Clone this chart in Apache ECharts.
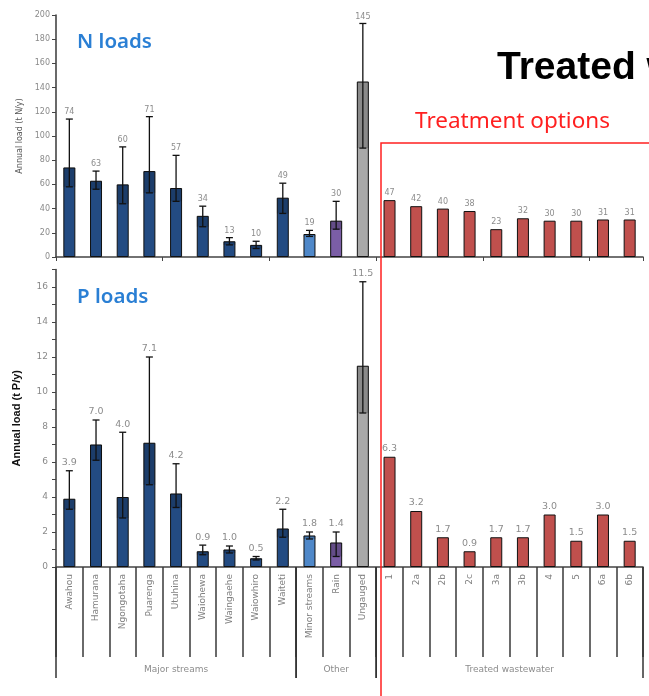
<!DOCTYPE html>
<html><head><meta charset="utf-8">
<script src="https://cdn.jsdelivr.net/npm/echarts@6/dist/echarts.min.js"></script>
<style>html,body{margin:0;padding:0;background:#fff}#c{width:649px;height:696px}</style>
</head><body><div id="c"></div>
<script>
const categories = ['Awahou','Hamurana','Ngongotaha','Puarenga','Utuhina','Waiohewa','Waingaehe','Waiowhiro','Waiteti','Minor streams','Rain','Ungauged','1','2a','2b','2c','3a','3b','4','5','6a','6b'];
const groupNames = ['Major streams','Other','Treated wastewater'];
const groupStart = [0, 9, 12];
const groupEnd = [8, 11, 21];

const nLoad = [74,63,60,71,57,34,13,10,49,19,30,145,47,42,40,38,23,32,30,30,31,31];
const nLow  = [58,56,44,53,46,25,10,7,36,17,23,90];
const nHigh = [114,71,91,116,84,42,16,13,61,22,46,193];
const nLabels = ['74','63','60','71','57','34','13','10','49','19','30','145','47','42','40','38','23','32','30','30','31','31'];

const pLoad = [3.9,7.0,4.0,7.1,4.2,0.9,1.0,0.5,2.2,1.8,1.4,11.5,6.3,3.2,1.7,0.9,1.7,1.7,3.0,1.5,3.0,1.5];
const pLow  = [3.3,6.1,2.8,4.7,3.4,0.7,0.8,0.4,1.7,1.6,0.6,8.8];
const pHigh = [5.5,8.4,7.7,12.0,5.9,1.25,1.2,0.6,3.3,2.0,2.0,16.3];
const pLabels = ['3.9','7.0','4.0','7.1','4.2','0.9','1.0','0.5','2.2','1.8','1.4','11.5','6.3','3.2','1.7','0.9','1.7','1.7','3.0','1.5','3.0','1.5'];

const nTicks = [0,20,40,60,80,100,120,140,160,180,200];
const pTicks = [0,2,4,6,8,10,12,14,16];

function colorFor(i){
  if (i < 9) return '#234b82';
  if (i === 9) return '#4f88c9';
  if (i === 10) return '#7b5ea6';
  if (i === 11) return '#a9a9a9';
  return '#c0504d';
}

function barData(vals){
  return vals.map((v,i)=>({value:v, itemStyle:{color:colorFor(i)}}));
}
function errData(vals, lo, hi){
  return vals.map((v,i)=> [i, v, i<lo.length?lo[i]:v, i<hi.length?hi[i]:v, i<lo.length?1:0]);
}
function makeErr(labels, fontSize, barW){
  return function(params, api){
    const i = api.value(0), v = api.value(1), lo = api.value(2), hi = api.value(3), has = api.value(4);
    const c = api.coord([i, v]);
    const ch = [];
    let topY = c[1];
    if (has) {
      const a = api.coord([i, lo]), b = api.coord([i, hi]);
      ch.push({type:'rect', shape:{x:c[0]-barW/2, y:c[1], width:barW, height:a[1]-c[1]}, style:{fill:'rgba(0,0,0,0.18)'}});
      ch.push({type:'line', shape:{x1:c[0], y1:a[1], x2:c[0], y2:b[1]}, style:{stroke:'#111', lineWidth:1.3}});
      ch.push({type:'line', shape:{x1:c[0]-3.5, y1:b[1], x2:c[0]+3.5, y2:b[1]}, style:{stroke:'#111', lineWidth:1.3}});
      ch.push({type:'line', shape:{x1:c[0]-3.5, y1:a[1], x2:c[0]+3.5, y2:a[1]}, style:{stroke:'#111', lineWidth:1.3}});
      topY = b[1];
    }
    ch.push({type:'text', style:{text:labels[params.dataIndex], x:c[0], y:topY-3, align:'center', verticalAlign:'bottom', fill:'#8c8c8c', font: fontSize+'px "DejaVu Sans", sans-serif'}});
    return {type:'group', children: ch};
  };
}

function groupRender(params, api){
  const s = api.value(0), e = api.value(1);
  const bw = api.size([1,0])[0];
  const p0 = api.coord([s, 0]), p1 = api.coord([e, 0]);
  const xl = p0[0]-bw/2, xr = p1[0]+bw/2, y = p0[1];
  return {type:'group', children:[
    {type:'line', shape:{x1:xl, y1:y, x2:xl, y2:y+111}, style:{stroke:'#333', lineWidth:1.5}},
    {type:'line', shape:{x1:xr, y1:y, x2:xr, y2:y+111}, style:{stroke:'#333', lineWidth:1.5}},
    {type:'text', style:{text:groupNames[params.dataIndex], x:(xl+xr)/2, y:y+103, align:'center', verticalAlign:'middle', fill:'#8c8c8c', font:'9px "DejaVu Sans", sans-serif'}}
  ]};
}

const chart = echarts.init(document.getElementById('c'), null, {renderer:'canvas'});
const axisLineStyle = {color:'#444', width:1.6};
chart.setOption({
  animation:false,
  backgroundColor:'#fff',
  grid:[
    {left:56, right:6, top:15, bottom:439},
    {left:56, right:6, top:269.5, bottom:129}
  ],
  xAxis:[
    {type:'category', gridIndex:0, data:categories, axisLine:{lineStyle:axisLineStyle}, axisTick:{show:true, length:4, lineStyle:{color:'#444'}}, axisLabel:{show:false}},
    {type:'category', gridIndex:1, data:categories, axisLine:{lineStyle:axisLineStyle},
     axisTick:{show:true, length:90, interval:0, lineStyle:{color:'#3a3a3a', width:1.5}},
     axisLabel:{interval:0, rotate:90, margin:7, fontSize:9, color:'#808080', fontFamily:'DejaVu Sans'}}
  ],
  yAxis:[
    {type:'value', gridIndex:0, min:0, max:200, interval:20, axisLine:{show:true, lineStyle:axisLineStyle}, axisTick:{show:true, length:4, lineStyle:{color:'#444'}},
     splitLine:{show:false}, axisLabel:{fontSize:8, color:'#8a8a8a', margin:6, fontFamily:'DejaVu Sans', formatter:v=> nTicks.indexOf(v)>=0 ? String(v) : ''},
     name:'Annual load (t N/y)', nameLocation:'middle', nameGap:31, nameTextStyle:{fontSize:8, color:'#555', fontFamily:'DejaVu Sans'}},
    {type:'value', gridIndex:1, min:0, max:17, interval:1, axisLine:{show:true, lineStyle:axisLineStyle}, axisTick:{show:true, length:4, interval:0, lineStyle:{color:'#444'}},
     splitLine:{show:false}, axisLabel:{fontSize:9, color:'#8a8a8a', margin:8, fontFamily:'DejaVu Sans', formatter:v=> pTicks.indexOf(v)>=0 ? String(v) : ''},
     name:'Annual load (t P/y)', nameLocation:'middle', nameGap:34, nameTextStyle:{fontSize:11, fontWeight:'bold', color:'#111', fontFamily:'Liberation Sans'}}
  ],
  series:[
    {type:'bar', xAxisIndex:0, yAxisIndex:0, data:barData(nLoad), barWidth:12, itemStyle:{borderColor:'#111', borderWidth:1}},
    {type:'custom', xAxisIndex:0, yAxisIndex:0, data:errData(nLoad,nLow,nHigh), renderItem:makeErr(nLabels,8,12), clip:false, z:5},
    {type:'bar', xAxisIndex:1, yAxisIndex:1, data:barData(pLoad), barWidth:12, itemStyle:{borderColor:'#111', borderWidth:1}},
    {type:'custom', xAxisIndex:1, yAxisIndex:1, data:errData(pLoad,pLow,pHigh), renderItem:makeErr(pLabels,9.5,12), clip:false, z:5},
    {type:'custom', xAxisIndex:1, yAxisIndex:1, data:groupStart.map((s,k)=>[s, groupEnd[k]]), renderItem:groupRender, clip:false, z:5, silent:true}
  ],
  graphic:[
    {type:'text', left:77, top:32, style:{text:'N loads', fill:'#2a7fd4', font:'600 20.5px "Noto Sans", sans-serif'}},
    {type:'text', left:77, top:287, style:{text:'P loads', fill:'#2a7fd4', font:'600 20.5px "Noto Sans", sans-serif'}},
    {type:'text', left:497, top:49, style:{text:'Treated wastewater', fill:'#000', font:'bold 39px "Liberation Sans", sans-serif'}},
    {type:'text', left:415, top:110, style:{text:'Treatment options', fill:'#ff2020', font:'22.5px "Noto Sans", sans-serif'}},
    {type:'rect', z:100, shape:{x:381, y:143, width:400, height:700}, style:{fill:'none', stroke:'#ff2020', lineWidth:1.5}}
  ]
});
</script></body></html>
